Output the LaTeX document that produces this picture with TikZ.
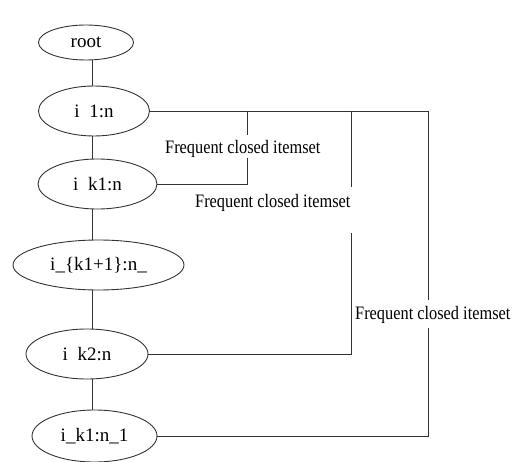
\documentclass[tikz,border=0pt]{standalone}
\usepackage{fontspec}
\usetikzlibrary{shapes.geometric}
\setmainfont{Liberation Serif}
\newfontfamily\labfont{Liberation Serif}[FakeStretch=0.86]
\begin{document}
\begin{tikzpicture}[x=1pt,y=-1pt,
  ln/.style={line width=0.9pt, draw=black!80},
  nd/.style={ellipse, draw=black!80, line width=0.9pt, inner sep=0pt, font=\fontsize{19}{20}\selectfont},
  lab/.style={inner sep=0pt, anchor=west, font=\labfont\fontsize{19}{20}\selectfont}]
\useasboundingbox (0,0) rectangle (514,462);
\node[nd, minimum width=95pt, minimum height=35pt] (root) at (86,42.5) {root};
\node[nd, minimum width=111pt, minimum height=50pt] (i1) at (94,111) {i\enspace 1:n};
\node[nd, minimum width=119pt, minimum height=50pt] (ik1) at (97.5,184) {i\enspace k1:n};
\node[nd, minimum width=171pt, minimum height=50pt] (ik11) at (98.5,265) {i\_\{k1+1\}:n\_};
\node[nd, minimum width=122pt, minimum height=50pt] (ik2) at (87,354) {i\enspace k2:n};
\node[nd, minimum width=125pt, minimum height=52pt] (ik1n1) at (94.5,436) {i\_k1:n\_1};
\coordinate (vx) at (92,0);
\draw[ln] (vx |- root.south) -- (vx |- i1.north);
\draw[ln] (vx |- i1.south) -- (vx |- ik1.north);
\draw[ln] (vx |- ik1.south) -- (vx |- ik11.north);
\draw[ln] (vx |- ik11.south) -- (vx |- ik2.north);
\draw[ln] (vx |- ik2.south) -- (vx |- ik1n1.north);
% main loop
\coordinate (a1) at (247,111);
\coordinate (a2) at (351,111);
\coordinate (a3) at (428,111);
\draw[ln] (i1.east) -- (a3) -- (428,300);
\draw[ln] (428,328) -- (428,436) -- (ik1n1.east);
\draw[ln] (a1) -- (247,135);
\draw[ln] (247,158) -- (247,184) -- (ik1.east);
\draw[ln] (a2) -- (351,187);
\draw[ln] (351,233) -- (351,354) -- (ik2.east);
\node[lab] (l1) at (165,149) {Frequent closed itemset};
\node[lab] (l2) at (195,203) {Frequent closed itemset};
\node[lab] (l3) at (355,315) {Frequent closed itemset};
\end{tikzpicture}
\end{document}
